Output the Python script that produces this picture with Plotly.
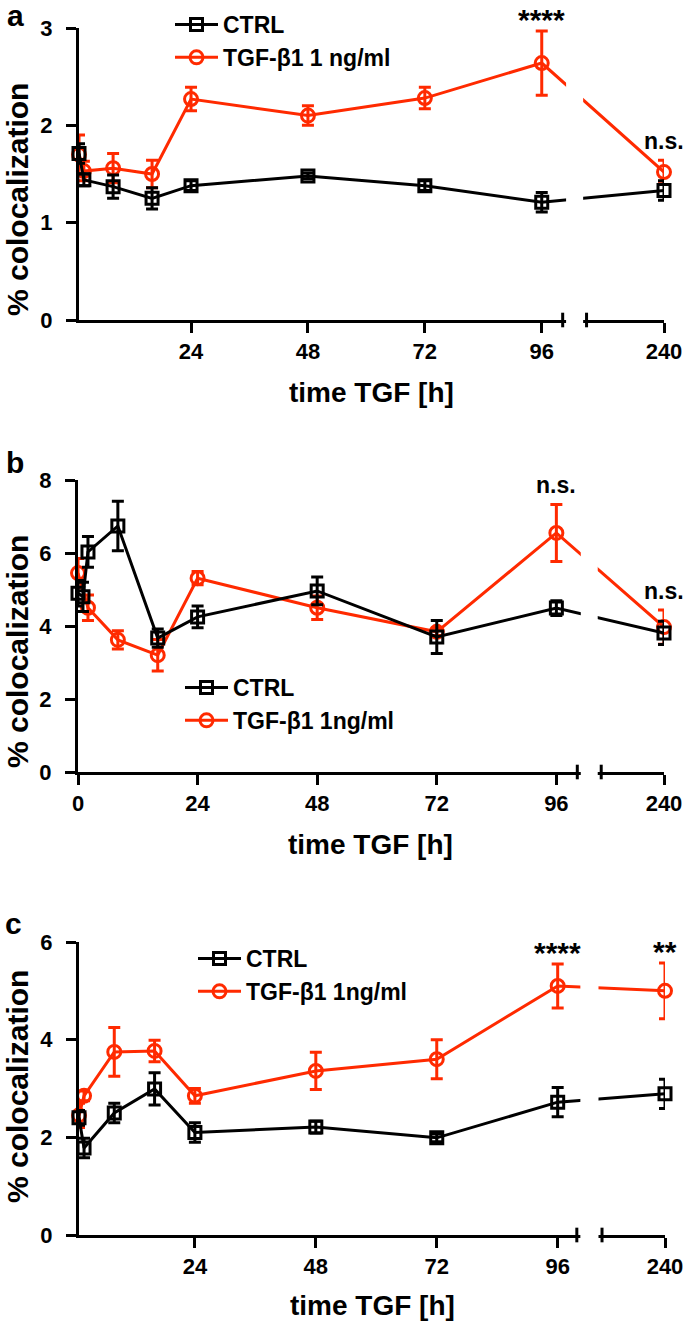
import plotly.graph_objects as go

FONT = "Liberation Sans, Arial, sans-serif"
RED = "#FF2A00"
W, H = 685, 1326

# ---- panel a ----
a_t = [1, 2, 8, 16, 24, 48, 72, 96, 240]
a_ctrl = [1.71, 1.44, 1.37, 1.25, 1.38, 1.48, 1.38, 1.21, 1.33]
a_ctrl_sem = [0.10, 0.06, 0.12, 0.11, 0.05, 0.03, 0.05, 0.10, 0.10]
a_tgf = [1.70, 1.53, 1.56, 1.50, 2.27, 2.10, 2.28, 2.64, 1.52]
a_tgf_sem = [0.20, 0.10, 0.15, 0.14, 0.12, 0.10, 0.11, 0.33, 0.12]
a_sig = [("****", 96), ("n.s.", 240)]

# ---- panel b ----
b_t_ctrl = [0, 1, 2, 8, 16, 24, 48, 72, 96, 240]
b_ctrl = [4.90, 4.80, 6.03, 6.74, 3.67, 4.25, 4.96, 3.70, 4.49, 3.81]
b_ctrl_sem = [0.35, 0.40, 0.42, 0.68, 0.25, 0.30, 0.38, 0.45, 0.20, 0.32]
b_t_tgf = [0, 2, 8, 16, 24, 48, 72, 96, 240]
b_tgf = [5.45, 4.50, 3.62, 3.20, 5.31, 4.50, 3.84, 6.55, 3.97]
b_tgf_sem = [0.40, 0.35, 0.25, 0.43, 0.18, 0.32, 0.10, 0.78, 0.47]
b_sig = [("n.s.", 96), ("n.s.", 240)]

# ---- panel c ----
c_t = [1, 2, 8, 16, 24, 48, 72, 96, 240]
c_ctrl = [2.40, 1.78, 2.50, 2.99, 2.10, 2.21, 1.99, 2.72, 2.89]
c_ctrl_sem = [0.15, 0.20, 0.20, 0.33, 0.20, 0.12, 0.08, 0.30, 0.30]
c_tgf = [2.45, 2.85, 3.75, 3.77, 2.85, 3.36, 3.60, 5.10, 5.00]
c_tgf_sem = [0.25, 0.10, 0.50, 0.22, 0.15, 0.38, 0.40, 0.45, 0.57]
c_sig = [("****", 96), ("**", 240)]

a_xticks = [24, 48, 72, 96, 240]
b_xticks = [0, 24, 48, 72, 96, 240]
c_xticks = [24, 48, 72, 96, 240]
a_yticks = [0, 1, 2, 3]
b_yticks = [0, 2, 4, 6, 8]
c_yticks = [0, 2, 4, 6]

# layout positions are given in page pixels
panels = [
    dict(label="a", t_ctrl=a_t, ctrl=a_ctrl, ctrl_sem=a_ctrl_sem, t_tgf=a_t, tgf=a_tgf, tgf_sem=a_tgf_sem,
         sig=a_sig, xticks=a_xticks, yticks=a_yticks, tgf_name="TGF-β1 1 ng/ml",
         x0=1, gap=25.1, brk=(100.3, 105.2), xdom=(79, 664), ydom=(28, 320), ymax=3,
         leg=(170, 3), ytitle=200, xtitle=392, lab=(15, 16)),
    dict(label="b", t_ctrl=b_t_ctrl, ctrl=b_ctrl, ctrl_sem=b_ctrl_sem, t_tgf=b_t_tgf, tgf=b_tgf, tgf_sem=b_tgf_sem,
         sig=b_sig, xticks=b_xticks, yticks=b_yticks, tgf_name="TGF-β1 1ng/ml",
         x0=0, gap=21.6, brk=(100.2, 105.0), xdom=(78, 664), ydom=(480, 772), ymax=8,
         leg=(180, 666), ytitle=652, xtitle=845, lab=(15, 462)),
    dict(label="c", t_ctrl=c_t, ctrl=c_ctrl, ctrl_sem=c_ctrl_sem, t_tgf=c_t, tgf=c_tgf, tgf_sem=c_tgf_sem,
         sig=c_sig, xticks=c_xticks, yticks=c_yticks, tgf_name="TGF-β1 1ng/ml",
         x0=1, gap=21.3, brk=(99.8, 104.8), xdom=(79, 665), ydom=(942, 1235), ymax=6,
         leg=(193, 937), ytitle=1087, xtitle=1305, lab=(13, 923)),
]


def px(x):
    return x / W


def py(y):
    return 1 - y / H


def xmap(t, gap):
    # broken axis: everything after 96 h is pulled in next to the break
    return [v if v <= 96 else 96 + gap for v in t]


fig = go.Figure()
shapes = []
annotations = []

for i, p in enumerate(panels):
    n = "" if i == 0 else str(i + 1)
    xa, ya, leg = "x" + n, "y" + n, "legend" + n

    fig.add_trace(go.Scatter(
        x=xmap(p["t_tgf"], p["gap"]), y=p["tgf"], name=p["tgf_name"],
        error_y=dict(type="data", array=p["tgf_sem"], color=RED, thickness=3, width=6),
        mode="lines+markers", line=dict(color=RED, width=3),
        marker=dict(symbol="circle-open", size=13, color=RED, line=dict(width=3)),
        legend=leg, legendrank=2, xaxis=xa, yaxis=ya, cliponaxis=False))
    fig.add_trace(go.Scatter(
        x=xmap(p["t_ctrl"], p["gap"]), y=p["ctrl"], name="CTRL",
        error_y=dict(type="data", array=p["ctrl_sem"], color="black", thickness=3, width=6),
        mode="lines+markers", line=dict(color="black", width=3),
        marker=dict(symbol="square-open", size=12, color="black", line=dict(width=3)),
        legend=leg, legendrank=1, xaxis=xa, yaxis=ya, cliponaxis=False))

    xd = [px(p["xdom"][0]), px(p["xdom"][1])]
    yd = [py(p["ydom"][1]), py(p["ydom"][0])]
    axis_common = dict(showline=True, linewidth=3, linecolor="black", ticks="outside", ticklen=10,
                       tickwidth=3, tickcolor="black", showgrid=False, zeroline=False, automargin=False,
                       tickfont=dict(size=22, family=FONT, color="black", weight="bold"))
    fig.update_layout({
        "xaxis" + n: dict(domain=xd, range=[p["x0"], 96 + p["gap"]], anchor=ya,
                          tickvals=xmap(p["xticks"], p["gap"]), ticktext=[str(v) for v in p["xticks"]],
                          **axis_common),
        "yaxis" + n: dict(domain=yd, range=[0, p["ymax"]], anchor=xa, tickvals=p["yticks"],
                          ticklabelstandoff=9, **axis_common),
        leg: dict(x=px(p["leg"][0]), y=py(p["leg"][1]), xanchor="left", yanchor="top",
                  bgcolor="rgba(0,0,0,0)", itemwidth=43,
                  font=dict(size=23, family=FONT, color="black", weight="bold")),
    })

    # blank the lines and axis inside the break, then draw the end caps
    shapes.append(dict(type="rect", xref=xa, yref=ya + " domain", x0=p["brk"][0] + 0.7, x1=p["brk"][1] - 0.7,
                       y0=-0.02, y1=1.0, fillcolor="white", line=dict(width=0), layer="above"))
    for b in p["brk"]:
        shapes.append(dict(type="line", xref=xa, yref=ya + " domain", x0=b, x1=b, y0=-0.025, y1=0.025,
                           line=dict(color="black", width=3), layer="above"))

    # significance marks above the TGF error bars
    for txt, t in p["sig"]:
        k = p["t_tgf"].index(t)
        star = txt.startswith("*")
        annotations.append(dict(text=txt, xref=xa, yref=ya, x=xmap([t], p["gap"])[0],
                                y=p["tgf"][k] + p["tgf_sem"][k], xanchor="center", yanchor="bottom",
                                showarrow=False, yshift=-7 if star else 4,
                                font=dict(size=30 if star else 23, family=FONT, color="black", weight="bold")))

    annotations.append(dict(text="time TGF [h]", xref="paper", yref="paper", x=sum(xd) / 2,
                            y=py(p["xtitle"]), xanchor="center", yanchor="middle", showarrow=False,
                            font=dict(size=28, family=FONT, color="black", weight="bold")))
    annotations.append(dict(text="% colocalization", xref="paper", yref="paper", x=px(17),
                            y=py(p["ytitle"]), xanchor="center", yanchor="middle",
                            showarrow=False, textangle=-90, borderpad=0,
                            font=dict(size=30, family=FONT, color="black", weight="bold")))
    annotations.append(dict(text=p["label"], xref="paper", yref="paper", x=px(p["lab"][0]),
                            y=py(p["lab"][1]), xanchor="center", yanchor="middle", showarrow=False,
                            font=dict(size=30, family=FONT, color="black", weight="bold")))

fig.update_layout(width=W, height=H, margin=dict(l=0, r=0, t=0, b=0, autoexpand=False),
                  paper_bgcolor="white", plot_bgcolor="white",
                  font=dict(family=FONT, color="black"),
                  shapes=shapes, annotations=annotations)

# drop the page's default body margin so the figure sits at the window's corner
fig.write_html("out.html", config={"displayModeBar": False},
               post_script="document.body.style.margin = '0px';")
